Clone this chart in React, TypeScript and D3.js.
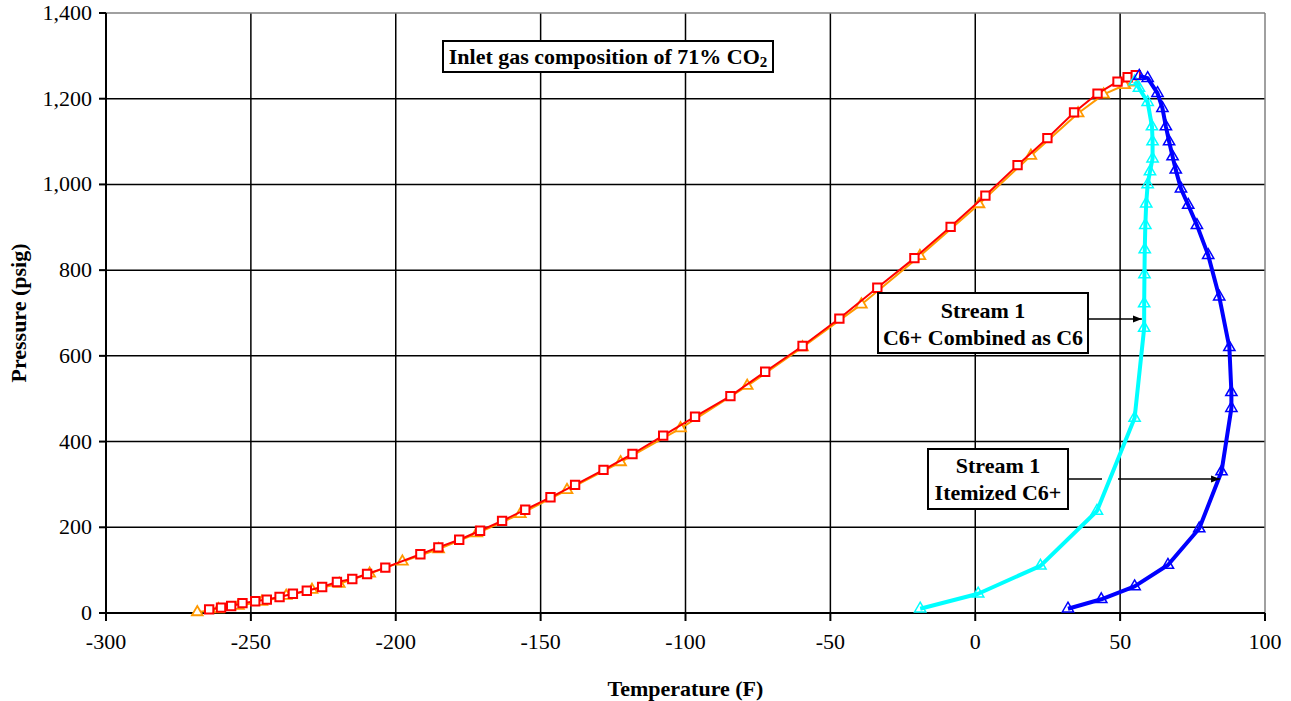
import React from 'react';
import * as d3 from 'd3';

// Phase envelope, inlet gas 71% CO2
const redTemp = [-264.4, -260.3, -256.8, -252.9, -248.5, -244.5, -240.1, -235.5, -230.7, -225.4, -220.3, -215.0, -209.9, -203.6, -191.5, -185.3, -178.1, -170.9, -163.3, -155.3, -146.6, -138.1, -128.3, -118.3, -107.7, -96.7, -84.5, -72.5, -59.6, -46.9, -33.8, -21.0, -8.5, 3.5, 14.6, 24.9, 34.1, 42.2, 49.1, 52.6, 55.4];
const redPres = [8.6, 12.4, 16.3, 22.9, 27.5, 31.3, 37.3, 45, 52, 60.7, 72.3, 79.3, 91, 105.8, 137, 153, 171, 192, 215, 241, 270, 299, 334, 371, 414, 458, 506, 563, 623, 687, 759, 828, 901, 974, 1045, 1108, 1168, 1212, 1240, 1250, 1255];

const orangeTemp = [-268.5, -261.2, -254.3, -246.2, -237.8, -228.9, -219.5, -209.0, -197.7, -185.2, -172.0, -157.0, -140.9, -122.4, -101.7, -78.7, -59.6, -39.3, -19.1, 1.3, 19.2, 35.5, 44.3, 51.6, 54.8];
const orangePres = [2, 9, 17, 26, 40, 54, 68, 92, 120, 149, 186, 231, 287, 352, 431, 530, 620, 720, 833, 954, 1067, 1166, 1210, 1232, 1238];

const cyanTemp = [-19, 1, 22.5, 42, 55, 58.3, 58.3, 58.4, 58.5, 58.7, 59, 59.5, 60.3, 61.2, 61.2, 61, 59.5, 56.5, 55];
const cyanPres = [10, 45, 110, 238, 455, 665, 722, 790, 848, 905, 955, 1000, 1030, 1060, 1100, 1135, 1192, 1225, 1240];

const blueTemp = [32, 43.5, 55, 66.5, 77.3, 85, 88.4, 88.4, 87.7, 84.2, 80.4, 76.5, 73.5, 71, 69.2, 68.1, 66.9, 65.8, 64.6, 62.9, 59.5, 56.6];
const bluePres = [10, 32, 62, 112, 197, 330, 478, 515, 620, 738, 835, 905, 952, 990, 1034, 1065, 1100, 1135, 1178, 1213, 1248, 1253];

const xTicks = [-300, -250, -200, -150, -100, -50, 0, 50, 100];
const yTicks = [0, 200, 400, 600, 800, 1000, 1200, 1400];

const W = 1291;
const H = 701;
const margin = { top: 13, right: 26, bottom: 88, left: 106 };

const font = '"Liberation Serif", "Times New Roman", serif';

function zip(t: number[], p: number[]) {
  return t.map((v, i) => [v, p[i]] as [number, number]);
}

export default function App() {
  const x = d3.scaleLinear().domain([-300, 100]).range([margin.left, W - margin.right]);
  const y = d3.scaleLinear().domain([0, 1400]).range([H - margin.bottom, margin.top]);
  const line = d3.line<[number, number]>().x(d => x(d[0])).y(d => y(d[1]));
  const fmt = d3.format(',');

  const square = d3.symbol().type(d3.symbolSquare).size(70)()!;
  const tri = d3.symbol().type(d3.symbolTriangle).size(50)()!;
  const triSmall = d3.symbol().type(d3.symbolTriangle).size(55)()!;

  const series = [
    { data: zip(orangeTemp, orangePres), color: '#FF9900', width: 2, marker: tri, mw: 1.8 },
    { data: zip(redTemp, redPres), color: '#FF0000', width: 2, marker: square, mw: 2 },
    { data: zip(cyanTemp, cyanPres), color: '#00FFFF', width: 4, marker: triSmall, mw: 1.5 },
    { data: zip(blueTemp, bluePres), color: '#0000FF', width: 4, marker: triSmall, mw: 1.5 },
  ];

  const x0 = x(-300), x1 = x(100), y0 = y(0), y1 = y(1400);

  return (
    <div style={{ position: 'fixed', left: 0, top: 0 }}>
      <svg width={W} height={H} style={{ display: 'block', background: '#fff' }} fontFamily={font}>
        <defs>
          <marker id="arr" viewBox="0 0 10 10" refX="10" refY="5" markerWidth="9" markerHeight="9" markerUnits="userSpaceOnUse" orient="auto">
            <path d="M0,1 L10,5 L0,9 Z" fill="#000" />
          </marker>
        </defs>
        {/* grid */}
        {xTicks.slice(1, -1).map(t => (
          <line key={'gx' + t} x1={x(t)} x2={x(t)} y1={y1} y2={y0} stroke="#000" strokeWidth={1.5} />
        ))}
        {yTicks.slice(1, -1).map(t => (
          <line key={'gy' + t} x1={x0} x2={x1} y1={y(t)} y2={y(t)} stroke="#000" strokeWidth={1.5} />
        ))}
        <line x1={x0} x2={x1} y1={y1} y2={y1} stroke="#808080" strokeWidth={1.5} />
        <line x1={x1} x2={x1} y1={y1} y2={y0} stroke="#808080" strokeWidth={1.5} />

        {/* axes */}
        <line x1={x0} x2={x1} y1={y0} y2={y0} stroke="#000" strokeWidth={2} />
        <line x1={x0} x2={x0} y1={y1} y2={y0} stroke="#000" strokeWidth={2} />
        {xTicks.map(t => (
          <g key={'xt' + t}>
            <line x1={x(t)} x2={x(t)} y1={y0} y2={y0 + 8} stroke="#000" strokeWidth={2} />
            <text x={x(t)} y={y0 + 36} textAnchor="middle" fontSize={22}>{t}</text>
          </g>
        ))}
        {yTicks.map(t => (
          <g key={'yt' + t}>
            <line x1={x0 - 7} x2={x0} y1={y(t)} y2={y(t)} stroke="#000" strokeWidth={2} />
            <text x={x0 - 14} y={y(t) + 7} textAnchor="end" fontSize={22}>{fmt(t)}</text>
          </g>
        ))}
        <text x={(x0 + x1) / 2} y={696} textAnchor="middle" fontSize={22} fontWeight="bold">Temperature (F)</text>
        <text transform={`translate(26, ${(y0 + y1) / 2}) rotate(-90)`} textAnchor="middle" fontSize={22} fontWeight="bold">Pressure (psig)</text>

        {/* series */}
        {series.map((s, i) => (
          <g key={'s' + i}>
            <path d={line(s.data)!} fill="none" stroke={s.color} strokeWidth={s.width} strokeLinejoin="round" />
            {s.data.map((d, j) => (
              <path key={j} d={s.marker} transform={`translate(${x(d[0])},${y(d[1])})`} fill="#fff" fillOpacity={i >= 2 ? 0 : 1} stroke={s.color} strokeWidth={s.mw} />
            ))}
          </g>
        ))}

        {/* annotations */}
        <rect x={443} y={41} width={330} height={31} fill="#fff" stroke="#000" strokeWidth={2} />
        <text x={608} y={64} textAnchor="middle" fontSize={22} fontWeight="bold">
          Inlet gas composition of 71% CO<tspan fontSize={15} dy={3}>2</tspan>
        </text>

        <rect x={878} y={293} width={210} height={60} fill="#fff" stroke="#000" strokeWidth={2} />
        <text x={983} y={318} textAnchor="middle" fontSize={22} fontWeight="bold">Stream 1</text>
        <text x={983} y={345} textAnchor="middle" fontSize={22} fontWeight="bold">C6+ Combined as C6</text>
        <line x1={1088} x2={x(57.5)} y1={319} y2={319} stroke="#000" strokeWidth={1.5} markerEnd="url(#arr)" />

        <rect x={928} y={449} width={140} height={60} fill="#fff" stroke="#000" strokeWidth={2} />
        <text x={998} y={473} textAnchor="middle" fontSize={22} fontWeight="bold">Stream 1</text>
        <text x={998} y={500} textAnchor="middle" fontSize={22} fontWeight="bold">Itemized C6+</text>
        <line x1={1068} x2={1102} y1={479} y2={479} stroke="#000" strokeWidth={1.5} />
        <line x1={1118} x2={x(84.5)} y1={479} y2={479} stroke="#000" strokeWidth={1.5} markerEnd="url(#arr)" />
      </svg>
    </div>
  );
}
